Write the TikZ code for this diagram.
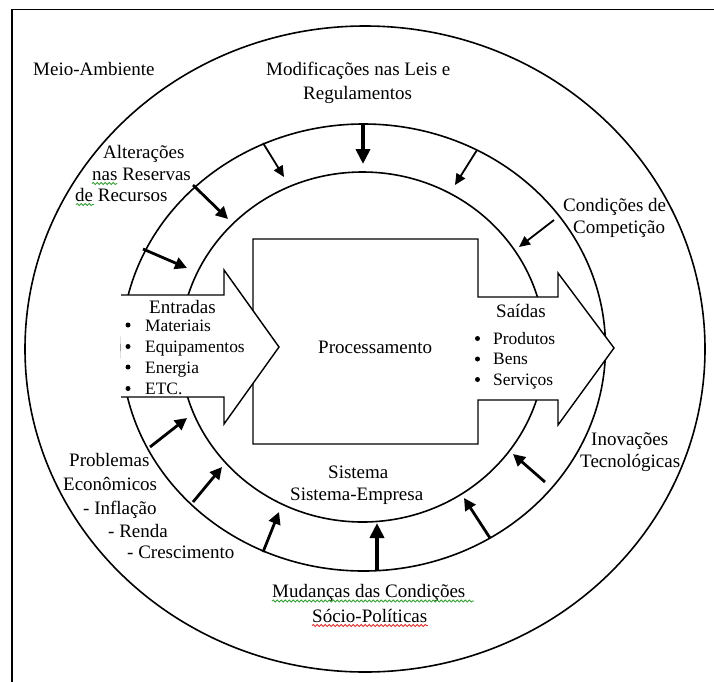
\documentclass[tikz,border=0pt]{standalone}
\usepackage{fontspec}
\setmainfont{Liberation Serif}
\usetikzlibrary{arrows.meta,decorations.pathmorphing}
\definecolor{spellgreen}{RGB}{50,160,50}
\definecolor{spellred}{RGB}{225,40,40}
\begin{document}
\begin{tikzpicture}[x=1pt,y=-1pt,
  lbl/.style={inner sep=0pt,anchor=base west,font=\fontsize{19}{22}\selectfont},
  itm/.style={inner sep=0pt,anchor=base west,font=\fontsize{17.4}{20}\selectfont},
  ring/.style={line width=1.6pt},
  blockshape/.style={line width=1.4pt,line join=miter},
  thickarr/.style={line width=4pt,-{Triangle[length=15pt,width=14pt]}},
  medarr/.style={line width=2.8pt,-{Triangle[length=12pt,width=12pt]}},
  thinarr/.style={line width=1.8pt,-{Triangle[length=11pt,width=10pt]}},
  bul/.style={fill=black,circle,inner sep=0pt,minimum size=5pt},
  wavyg/.style={draw=spellgreen,line width=0.8pt,decorate,decoration={snake,amplitude=1.1pt,segment length=4pt}},
  wavyr/.style={draw=spellred,line width=0.8pt,decorate,decoration={snake,amplitude=1.1pt,segment length=4pt}}
]
\useasboundingbox (0,0) rectangle (714,681);
\clip (0,0) rectangle (714,681);
\fill[white] (0,0) rectangle (714,681);
% frame
\draw[line width=1.5pt] (12,800) -- (12,9.5) -- (800,9.5);
% rings
\draw[ring] (365,349) ellipse [x radius=340pt, y radius=323pt];
\draw[ring] (363.5,347.5) ellipse [x radius=242pt, y radius=223.5pt];
\draw[ring] (362.5,347) ellipse [x radius=182.5pt, y radius=175pt];
% processing box with output arrow
\draw[blockshape,fill=white] (253,239) -- (478,239) -- (478,297) -- (558,297) -- (558,273)
  -- (614,348) -- (558,425) -- (558,400) -- (478,400) -- (478,444) -- (253,444) -- cycle;
% input arrow
\fill[white] (121,295) -- (224,295) -- (224,270) -- (279,347) -- (224,424) -- (224,397) -- (121,397) -- cycle;
\draw[blockshape] (121,295) -- (224,295) -- (224,270) -- (279,347) -- (224,424) -- (224,397) -- (121,397);
% arrow coordinates
\coordinate (a1s) at (363,124);  \coordinate (a1e) at (363,164);
\coordinate (a2s) at (263,143);  \coordinate (a2e) at (284,177);
\coordinate (a3s) at (193,185);  \coordinate (a3e) at (228,219);
\coordinate (a4s) at (143,249);  \coordinate (a4e) at (187,268);
\coordinate (a5s) at (477,150);  \coordinate (a5e) at (455,185);
\coordinate (a6s) at (554,220);  \coordinate (a6e) at (519,247);
\coordinate (a7s) at (150,447);  \coordinate (a7e) at (187,418);
\coordinate (a8s) at (193,502);  \coordinate (a8e) at (222,467);
\coordinate (a9s) at (263,552);  \coordinate (a9e) at (279,512);
\coordinate (a10s) at (377,571); \coordinate (a10e) at (377,523);
\coordinate (a11s) at (490,538); \coordinate (a11e) at (464,498);
\coordinate (a12s) at (545,482); \coordinate (a12e) at (513,454);
\draw[thickarr] (a1s) -- (a1e);
\draw[thinarr] (a2s) -- (a2e);
\draw[medarr] (a3s) -- (a3e);
\draw[medarr] (a4s) -- (a4e);
\draw[thinarr] (a5s) -- (a5e);
\draw[thinarr] (a6s) -- (a6e);
\draw[medarr] (a7s) -- (a7e);
\draw[medarr] (a8s) -- (a8e);
\draw[medarr] (a9s) -- (a9e);
\draw[thickarr] (a10s) -- (a10e);
\draw[medarr] (a11s) -- (a11e);
\draw[medarr] (a12s) -- (a12e);
% labels
\node[lbl] (meio) at (33,75) {Meio-Ambiente};
\node[lbl] (mod1) at (266,75) {Modificações nas Leis e};
\node[lbl] (mod2) at (303,99) {Regulamentos};
\node[lbl] (alt1) at (103,158) {Alterações};
\node[lbl] (alt2) at (92,180) {nas Reservas};
\node[lbl] (alt3) at (75,201) {de Recursos};
\node[lbl] (cond1) at (563,211) {Condições de};
\node[lbl] (cond2) at (573,233) {Competição};
\node[lbl] (inov1) at (591,445) {Inovações};
\node[lbl] (inov2) at (580,467) {Tecnológicas};
\node[lbl] (prob1) at (69,466) {Problemas};
\node[lbl] (prob2) at (63,490) {Econômicos};
\node[lbl] (prob3) at (83,514) {- Inflação};
\node[lbl] (prob4) at (108,537) {- Renda};
\node[lbl] (prob5) at (127,558) {- Crescimento};
\node[lbl] (sis1) at (328,478) {Sistema};
\node[lbl] (sis2) at (290,500) {Sistema-Empresa};
\node[lbl] (mud1) at (272,597) {Mudanças das Condições};
\node[lbl] (mud2) at (312,622) {Sócio-Políticas};
\node[lbl] (proc) at (318,353) {Processamento};
\node[lbl] (ent) at (149,313) {Entradas};
\node[itm] (e1) at (145,331) {Materiais};
\node[itm] (e2) at (145,352.5) {Equipamentos};
\node[itm] (e3) at (145,373) {Energia};
\node[itm] (e4) at (145,394.5) {ETC.};
\node[bul] (b1) at (128,325) {};
\node[bul] (b2) at (128,346.5) {};
\node[bul] (b3) at (128,367) {};
\node[bul] (b4) at (128,388.5) {};
\node[lbl] (sai) at (496,317) {Saídas};
\node[itm] (s1) at (493,344) {Produtos};
\node[itm] (s2) at (493,364.5) {Bens};
\node[itm] (s3) at (493,385) {Serviços};
\node[bul] (c1) at (477.5,338.5) {};
\node[bul] (c2) at (477.5,359) {};
\node[bul] (c3) at (477.5,379.5) {};
% spell-check underlines
\draw[wavyg] (92,183.5) -- (117,183.5);
\draw[wavyg] (76,204.5) -- (94,204.5);
\draw[wavyg] (272,601) -- (474,601);
\draw[wavyr] (312,625.5) -- (428,625.5);
\end{tikzpicture}
\end{document}
